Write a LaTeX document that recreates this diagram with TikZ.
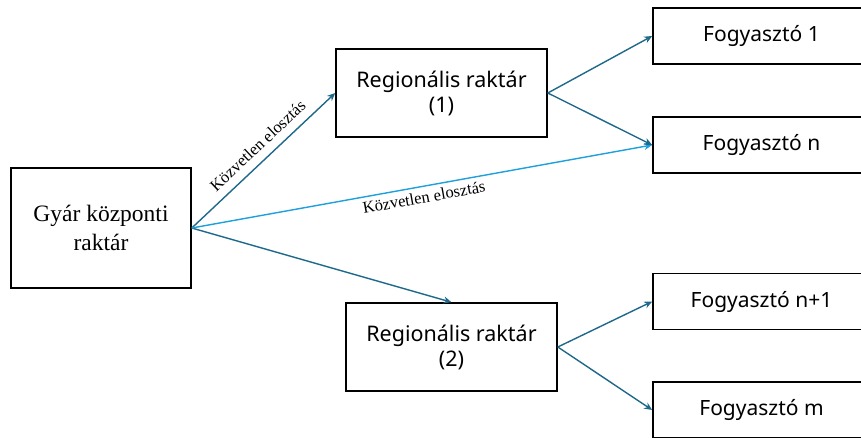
\documentclass[tikz,border=0pt]{standalone}
\usepackage{fontspec}
\setmainfont{Liberation Serif}
\setsansfont{Noto Sans}
\usetikzlibrary{arrows.meta}

\definecolor{tealline}{RGB}{30,104,138}
\definecolor{skyline}{RGB}{30,160,220}

\begin{document}
\begin{tikzpicture}[x=1pt,y=-1pt,
  box/.style={draw,line width=1.6pt,align=center,inner sep=0pt},
  store/.style={box,font=\sffamily\fontsize{21.5}{25}\selectfont,minimum width=211pt,minimum height=88pt},
  consumer/.style={box,font=\sffamily\fontsize{21}{24}\selectfont,minimum width=217pt,minimum height=56pt},
  link/.style={line width=1.4pt,tealline,-{Stealth[length=8pt,width=7pt]}},
  direct/.style={font=\fontsize{16.5}{19}\selectfont,text=black}]
  \useasboundingbox (0,0) rectangle (861,437);
  \clip (0,0) rectangle (861,437);

  % raktarak
  \node[box,font=\fontsize{23.5}{29}\selectfont,minimum width=180pt,minimum height=120pt] (gyar) at (101,228) {Gyár központi\\raktár};
  \node[store] (reg1) at (441.5,93) {Regionális raktár\\(1)};
  \node[store] (reg2) at (451.5,347) {Regionális raktár\\(2)};

  % fogyasztok
  \node[consumer] (fogy1) at (761.5,36) {Fogyasztó 1};
  \node[consumer] (fogyn) at (761.5,145) {Fogyasztó n};
  \node[consumer] (fogyn1) at (761.5,301.5) {Fogyasztó n+1};
  \node[consumer] (fogym) at (761.5,410) {Fogyasztó m};

  % kapcsolatok
  \draw[link] (gyar.east) -- (reg1.west) node[direct,sloped,above=5pt,pos=0.53] {Közvetlen elosztás};
  \draw[link] (gyar.east) -- (reg2.north);
  \draw[link,skyline] (gyar.east) -- (fogyn.west) node[direct,sloped,below=1pt,pos=0.5] {Közvetlen elosztás};
  \draw[link] (reg1.east) -- (fogy1.west);
  \draw[link] (reg1.east) -- (fogyn.west);
  \draw[link] (reg2.east) -- (fogyn1.west);
  \draw[link] (reg2.east) -- (fogym.west);
\end{tikzpicture}
\end{document}
